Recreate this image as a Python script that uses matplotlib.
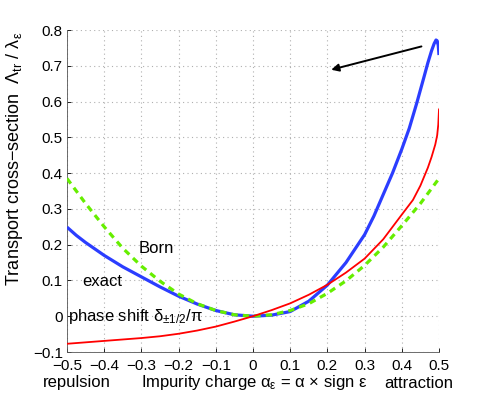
import matplotlib
matplotlib.use("Agg")
import matplotlib.pyplot as plt

plt.rcParams['font.family'] = ['Liberation Sans', 'DejaVu Sans']
plt.rcParams['mathtext.fontset'] = 'custom'
plt.rcParams['mathtext.rm'] = 'Liberation Sans'
plt.rcParams['mathtext.it'] = 'Liberation Sans'
plt.rcParams['mathtext.default'] = 'regular'

# exact (blue)
exact_x = [-0.5, -0.475, -0.45, -0.425, -0.4, -0.35, -0.3, -0.25, -0.2, -0.15, -0.1, -0.05, 0.0,
           0.05, 0.1, 0.15, 0.2, 0.25, 0.3, 0.325, 0.35, 0.375, 0.4, 0.42, 0.44, 0.46, 0.47,
           0.48, 0.487, 0.492, 0.495, 0.498, 0.5]
exact_y = [0.249, 0.226, 0.206, 0.188, 0.17, 0.138, 0.11, 0.082, 0.056, 0.034, 0.016, 0.004, 0.0,
           0.003, 0.013, 0.042, 0.087, 0.15, 0.228, 0.28, 0.34, 0.4, 0.467, 0.525, 0.595, 0.67, 0.708,
           0.742, 0.762, 0.772, 0.77, 0.757, 0.73]

# Born (green dashed)
born_x = [-0.5, -0.45, -0.4, -0.35, -0.3, -0.25, -0.2, -0.15, -0.1, -0.05, 0.0,
          0.05, 0.1, 0.15, 0.2, 0.25, 0.3, 0.35, 0.4, 0.45, 0.5]
born_y = [0.385, 0.315, 0.25, 0.19, 0.14, 0.098, 0.062, 0.035, 0.016, 0.004, 0.0,
          0.004, 0.016, 0.035, 0.064, 0.099, 0.142, 0.193, 0.253, 0.315, 0.385]

# phase shift (red)
phase_x = [-0.5, -0.45, -0.4, -0.35, -0.3, -0.25, -0.2, -0.15, -0.1, -0.05, 0.0,
           0.05, 0.1, 0.15, 0.2, 0.25, 0.3, 0.35, 0.4, 0.43, 0.45, 0.47, 0.48,
           0.49, 0.495, 0.498, 0.5]
phase_y = [-0.077, -0.073, -0.069, -0.065, -0.061, -0.056, -0.049, -0.04, -0.029, -0.015, 0.0,
           0.017, 0.036, 0.06, 0.088, 0.122, 0.161, 0.215, 0.284, 0.325, 0.365, 0.415, 0.445,
           0.48, 0.505, 0.535, 0.578]

xticks = [-0.5, -0.4, -0.3, -0.2, -0.1, 0.0, 0.1, 0.2, 0.3, 0.4, 0.5]
xticklabels = ['\u22120.5', '\u22120.4', '\u22120.3', '\u22120.2', '\u22120.1', '0',
               '0.1', '0.2', '0.3', '0.4', '0.5']
yticks = [-0.1, 0.0, 0.1, 0.2, 0.3, 0.4, 0.5, 0.6, 0.7, 0.8]
yticklabels = ['\u22120.1', '0', '0.1', '0.2', '0.3', '0.4', '0.5', '0.6', '0.7', '0.8']

fig = plt.figure(figsize=(4.85, 3.99), dpi=100)
ax = fig.add_axes([67/485, 1-352/399, (439-67)/485, (352-30)/399])

ax.plot(exact_x, exact_y, color='#2b3dff', lw=2.3, solid_capstyle='butt', zorder=3)
ax.plot(born_x, born_y, color='#66ee00', lw=2.3, dashes=(2.0, 1.6), zorder=4)
ax.plot(phase_x, phase_y, color='#ff0000', lw=1.3, zorder=5)

ax.set_xlim(-0.5, 0.5)
ax.set_ylim(-0.1, 0.8)
ax.set_xticks(xticks)
ax.set_xticklabels(xticklabels)
ax.set_yticks(yticks)
ax.set_yticklabels(yticklabels)
ax.tick_params(direction='in', length=3, width=0.6, labelsize=11, pad=3, colors='black')
ax.tick_params(axis='x', pad=5)
ax.grid(True, linestyle=(0, (1, 3)), color='#b0b0b0', lw=0.8)
ax.set_axisbelow(True)
for s in ['top', 'right']:
    ax.spines[s].set_visible(False)
for s in ['left', 'bottom']:
    ax.spines[s].set_linewidth(0.6)
    ax.spines[s].set_color('#555555')

ax.set_ylabel(r'Transport cross$-$section  $\Lambda_{\rm tr}$ / $\lambda_{\varepsilon}$', fontsize=13)
ax.yaxis.set_label_coords(-0.112, 0.6)

fig.text(254/485, 1-382/399, r'Impurity charge $\alpha_{\varepsilon}$ = $\alpha$ $\times$ sign $\varepsilon$',
         ha='center', va='center', fontsize=12)
fig.text(77/485, 1-383/399, 'repulsion', ha='center', va='center', fontsize=12)
fig.text(419/485, 1-383/399, 'attraction', ha='center', va='center', fontsize=12)

ax.text(-0.308, 0.189, 'Born', ha='left', va='center', fontsize=12)
ax.text(-0.459, 0.097, 'exact', ha='left', va='center', fontsize=12)
ax.text(-0.497, 0.0, r'phase shift $\delta_{\pm 1/2}$/$\pi$', ha='left', va='center', fontsize=12)

ax.annotate('', xy=(0.203, 0.687), xytext=(0.46, 0.756),
            arrowprops=dict(arrowstyle='-|>', color='black', lw=1.4, mutation_scale=11))

fig.savefig('out.png', dpi=100)
